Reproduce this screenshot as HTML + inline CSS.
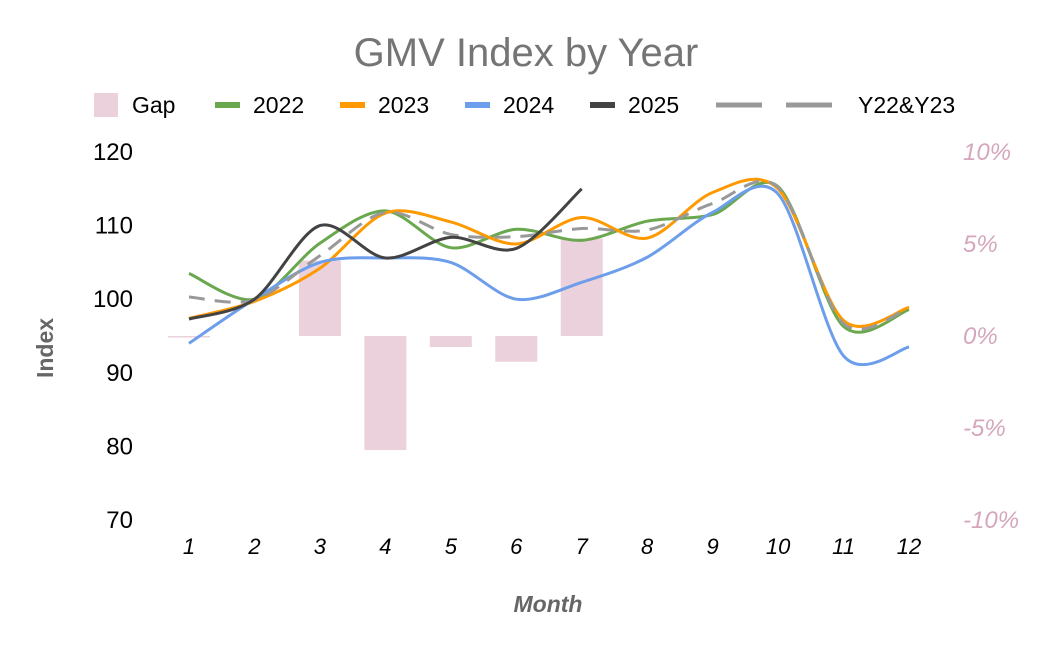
<!DOCTYPE html>
<html><head><meta charset="utf-8"><style>
body{margin:0;background:#fff;}
svg{display:block;font-family:"Liberation Sans",Arial,sans-serif;}
</style></head><body>
<svg id="chart" width="1051" height="650">
<rect width="1051" height="650" fill="#fff"/>
<text x="526" y="66" text-anchor="middle" font-size="40" fill="#757575">GMV Index by Year</text>
<g id="legend"></g>
<g id="axes"></g>
<g id="bars"></g>
<g id="lines"></g>
<text transform="translate(53,348) rotate(-90)" text-anchor="middle" font-size="23" font-weight="bold" fill="#666">Index</text>
<text x="548" y="612" text-anchor="middle" font-size="23" font-weight="bold" font-style="italic" fill="#666">Month</text>
</svg>
<script>
const months=[1,2,3,4,5,6,7,8,9,10,11,12];
const gap=[0,null,4.1,-6.2,-0.6,-1.4,5.3,null,null,null,null,null];
const s2022=[103.5,100,107.6,112,107,109.5,108,110.6,111.5,115.3,96.3,98.6];
const s2023=[97.4,99.7,104.2,111.7,110.5,107.5,111.1,108.3,114.5,115,97.1,98.9];
const s2024=[94,100,105,105.6,105,100,102.3,105.7,111.8,114.3,92.3,93.5];
const s2025=[97.3,100,110,105.6,108.4,106.9,115];
const sAvg=[100.3,99.9,105.9,111.8,108.8,108.5,109.6,109.4,113,115.2,96.7,98.8];
const leftTicks=[70,80,90,100,110,120];
const rightTicks=[-10,-5,0,5,10];
const NS="http://www.w3.org/2000/svg";
function X(m){return 189+(m-1)*(909-189)/11;}
function Y(v){return 520-(v-70)*(520-152)/50;}
function YR(p){return 336-p*(336-152)/10;}
function mk(t,a,p){const e=document.createElementNS(NS,t);for(const k in a)e.setAttribute(k,a[k]);(p||document.getElementById('chart')).appendChild(e);return e;}
const axes=document.getElementById('axes');
leftTicks.forEach(t=>{const e=mk('text',{x:133,y:Y(t)+8,'text-anchor':'end','font-size':24,fill:'#000'},axes);e.textContent=t;

});
rightTicks.forEach(t=>{const e=mk('text',{x:963,y:YR(t)+8,'font-size':24,'font-style':'italic',fill:'#d5a6bd'},axes);e.textContent=t+'%';

});
months.forEach(m=>{const e=mk('text',{x:X(m),y:554,'text-anchor':'middle','font-size':22,'font-style':'italic',fill:'#000'},axes);e.textContent=m;

});
const bars=document.getElementById('bars');
gap.forEach((g,i)=>{if(g===null)return;const y0=YR(0),y1=YR(g);
const r=mk('rect',{x:X(months[i])-21,y:Math.min(y0,y1),width:42,height:Math.max(1.5,Math.abs(y1-y0)),fill:'#ead1dc'},bars);

});
function path(vals){const p=vals.map((v,i)=>[X(months[i]),Y(v)]);let d='M'+p[0][0]+','+p[0][1];
for(let i=0;i<p.length-1;i++){const p0=p[i-1]||p[i],p1=p[i],p2=p[i+1],p3=p[i+2]||p2;const t=6.5;
d+=' C'+(p1[0]+(p2[0]-p0[0])/t)+','+(p1[1]+(p2[1]-p0[1])/t)+' '+(p2[0]-(p3[0]-p1[0])/t)+','+(p2[1]-(p3[1]-p1[1])/t)+' '+p2[0]+','+p2[1];}return d;}
const lines=document.getElementById('lines');
const series=[[s2022,'#6aa84f','',"line-2022"],[s2023,'#ff9900','',"line-2023"],[s2024,'#6d9eeb','',"line-2024"],[sAvg,'#999999','16,10',"line-y22-y23"],[s2025,'#434343','',"line-2025"]];
series.forEach(s=>{const e=mk('path',{d:path(s[0]),fill:'none',stroke:s[1],'stroke-width':3,'stroke-dasharray':s[2]},lines);

});
const lg=document.getElementById('legend');
const items=[['Gap',94,null],['2022',215,'#6aa84f'],['2023',340,'#ff9900'],['2024',465,'#6d9eeb'],['2025',590,'#434343'],['Y22&Y23',716,'#999999']];
items.forEach(it=>{let sw;if(it[2]===null){sw=mk('rect',{x:it[1],y:93,width:24,height:24,fill:'#ead1dc'},lg);}
else if(it[0]==='Y22&Y23'){sw=mk('path',{d:'M716,105 h46 M786,105 h46',stroke:it[2],'stroke-width':5,fill:'none'},lg);}
else{sw=mk('rect',{x:it[1],y:102,width:25,height:6,fill:it[2]},lg);}


const tx=it[0]==='Y22&Y23'?858:it[1]+38;
const t=mk('text',{x:tx,y:113,'font-size':23,fill:'#000'},lg);t.textContent=it[0];

});
</script>
</body></html>
